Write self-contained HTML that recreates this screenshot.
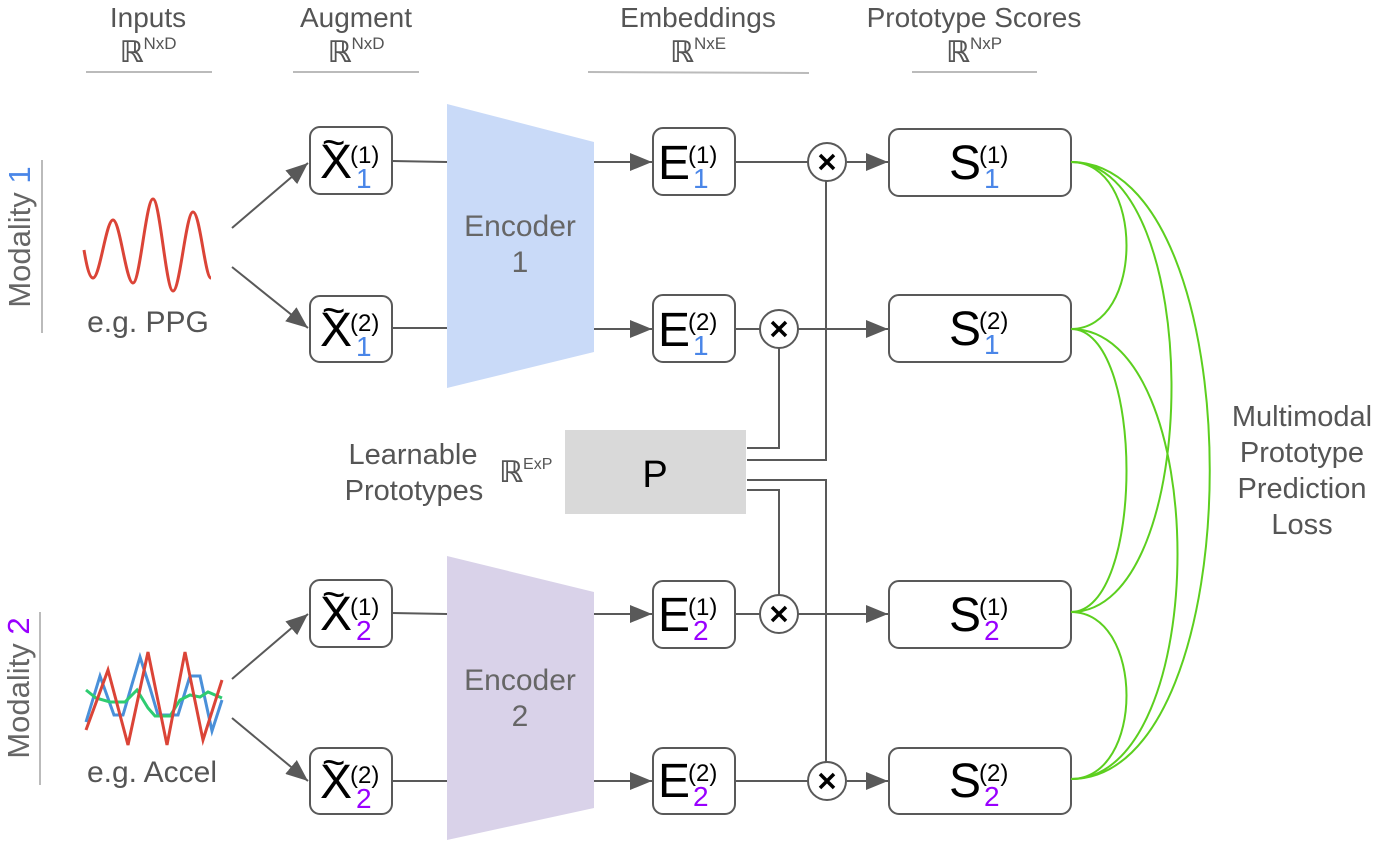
<!DOCTYPE html>
<html><head><meta charset="utf-8"><style>
html,body{margin:0;padding:0;background:#fff;}
svg{display:block;font-family:"Liberation Sans",Arial,sans-serif;}
</style></head><body>
<svg width="1377" height="846" viewBox="0 0 1377 846" xmlns="http://www.w3.org/2000/svg">
<defs>
<marker id="ah2" markerWidth="22" markerHeight="18" refX="22" refY="9" orient="auto" markerUnits="userSpaceOnUse">
<path d="M0,0 L22,9 L0,18 z" fill="#595959"/></marker>
</defs>

<!-- headers -->
<g fill="#555" font-size="28" text-anchor="middle">
<text x="148" y="27">Inputs</text>
<text x="356" y="27">Augment</text>
<text x="698" y="27">Embeddings</text>
<text x="974" y="27">Prototype Scores</text>
</g>
<g fill="#555" text-anchor="middle">
<text x="148" y="62"><tspan font-size="30" font-family="DejaVu Sans" font-weight="bold">ℝ</tspan><tspan font-size="17" dy="-13">NxD</tspan></text>
<text x="356" y="62"><tspan font-size="30" font-family="DejaVu Sans" font-weight="bold">ℝ</tspan><tspan font-size="17" dy="-13">NxD</tspan></text>
<text x="698" y="62"><tspan font-size="30" font-family="DejaVu Sans" font-weight="bold">ℝ</tspan><tspan font-size="17" dy="-13">NxE</tspan></text>
<text x="974" y="62"><tspan font-size="30" font-family="DejaVu Sans" font-weight="bold">ℝ</tspan><tspan font-size="17" dy="-13">NxP</tspan></text>
</g>
<g stroke="#bbb" stroke-width="2">
<line x1="86" y1="72" x2="212" y2="72"/>
<line x1="293" y1="72" x2="419" y2="72"/>
<line x1="588" y1="72" x2="809" y2="73"/>
<line x1="912" y1="72" x2="1037" y2="72"/>
<line x1="42" y1="160" x2="42" y2="333"/>
<line x1="40" y1="612" x2="40" y2="785"/>
</g>

<!-- modality labels -->
<text transform="translate(30,237) rotate(-90)" text-anchor="middle" font-size="31" fill="#666">Modality <tspan fill="#4a86e8">1</tspan></text>
<text transform="translate(29,688) rotate(-90)" text-anchor="middle" font-size="31" fill="#666">Modality <tspan fill="#9900ff">2</tspan></text>

<!-- waves -->
<path d="M84,250 C86,262 89,278 93,278 C100,278 106,220 113,220 C120,220 126,283 133,283 C140,283 146,199 153,199 C160,199 166,291 173,291 C180,291 186,212 193,212 C200,212 205,278 211,278" fill="none" stroke="#db4437" stroke-width="3"/>
<polyline points="86,722 100,676 114,715 123,715 140,657 150,688 158,715 178,715 190,676 200,676 212,731 222,700" fill="none" stroke="#4a90d9" stroke-width="3"/>
<polyline points="86,690 96,698 110,702 125,702 137,690 148,708 155,716 170,716 180,700 190,695 200,697 208,692 222,698" fill="none" stroke="#2ecc71" stroke-width="3"/>
<polyline points="86,730 108,670 128,745 148,652 167,745 185,652 203,740 222,680" fill="none" stroke="#db4437" stroke-width="3"/>
<g fill="#555" font-size="30" text-anchor="middle">
<text x="148" y="332">e.g. PPG</text>
<text x="152" y="782">e.g. Accel</text>
</g>

<!-- input arrows -->
<g stroke="#595959" stroke-width="2" marker-end="url(#ah2)">
<line x1="232" y1="228" x2="308" y2="163"/>
<line x1="232" y1="267" x2="308" y2="328"/>
<line x1="232" y1="679" x2="308" y2="614"/>
<line x1="232" y1="718" x2="308" y2="781"/>
</g>

<!-- encoders -->
<polygon points="447,104 594,142 594,352 447,388" fill="#c9daf8"/>
<polygon points="447,556 594,592 594,808 447,840" fill="#d9d2e9"/>
<g fill="#666" font-size="30" text-anchor="middle">
<text x="520" y="236">Encoder</text><text x="520" y="272">1</text>
<text x="520" y="690">Encoder</text><text x="520" y="726">2</text>
</g>

<g stroke="#595959" stroke-width="2" fill="none">
<line x1="392" y1="161" x2="447" y2="162"/>
<line x1="392" y1="328" x2="447" y2="328"/>
<line x1="392" y1="613" x2="447" y2="614"/>
<line x1="392" y1="781" x2="447" y2="781"/>
</g>
<g stroke="#595959" stroke-width="2" marker-end="url(#ah2)">
<line x1="594" y1="162" x2="652" y2="162"/>
<line x1="594" y1="329" x2="652" y2="329"/>
<line x1="594" y1="614" x2="652" y2="614"/>
<line x1="594" y1="781" x2="652" y2="781"/>
<line x1="847" y1="162" x2="888" y2="162"/>
<line x1="798" y1="329" x2="888" y2="329"/>
<line x1="798" y1="614" x2="888" y2="614"/>
<line x1="847" y1="781" x2="888" y2="781"/>
</g>
<g stroke="#595959" stroke-width="2" fill="none">
<line x1="735" y1="162" x2="809" y2="162"/>
<line x1="735" y1="329" x2="760" y2="329"/>
<line x1="735" y1="614" x2="760" y2="614"/>
<line x1="735" y1="781" x2="809" y2="781"/>
<polyline points="747,448 779,448 779,348"/>
<polyline points="747,460 826,460 826,181"/>
<polyline points="747,480 826,480 826,762"/>
<polyline points="747,490 779,490 779,595"/>
</g>

<g stroke="#595959" stroke-width="2" fill="#fff">
<circle cx="827" cy="162" r="19"/>
<circle cx="779" cy="329" r="19"/>
<circle cx="779" cy="614" r="19"/>
<circle cx="827" cy="781" r="19"/>
</g>
<g stroke="#000" stroke-width="3.5">
<path d="M820,155 L834,169 M834,155 L820,169"/>
<path d="M772,322 L786,336 M786,322 L772,336"/>
<path d="M772,607 L786,621 M786,607 L772,621"/>
<path d="M820,774 L834,788 M834,774 L820,788"/>
</g>

<!-- P box -->
<rect x="565" y="430" width="181" height="84" fill="#d9d9d9"/>
<text x="655" y="487" text-anchor="middle" font-size="38" fill="#000">P</text>
<g fill="#555" font-size="29" text-anchor="middle">
<text x="413" y="464">Learnable</text>
<text x="414" y="500">Prototypes</text>
</g>
<text x="499" y="482" fill="#555"><tspan font-size="30" font-family="DejaVu Sans" font-weight="bold">ℝ</tspan><tspan font-size="16" dy="-13">ExP</tspan></text>

<!-- boxes -->
<g stroke="#595959" stroke-width="2" fill="#fff">
<rect x="310" y="127" width="82" height="67" rx="10"/>
<rect x="310" y="296" width="82" height="66" rx="10"/>
<rect x="310" y="580" width="82" height="67" rx="10"/>
<rect x="310" y="748" width="82" height="66" rx="10"/>
<rect x="653" y="128" width="82" height="67" rx="10"/>
<rect x="653" y="295" width="82" height="67" rx="10"/>
<rect x="653" y="581" width="82" height="67" rx="10"/>
<rect x="653" y="748" width="82" height="66" rx="10"/>
<rect x="889" y="129" width="182" height="67" rx="10"/>
<rect x="889" y="295" width="182" height="67" rx="10"/>
<rect x="889" y="581" width="182" height="67" rx="10"/>
<rect x="889" y="748" width="182" height="66" rx="10"/>
</g>

<g font-size="48" fill="#000">
<text x="320" y="178">X</text><text x="322" y="156" font-size="40" transform="translate(0,0)">~</text>
<text x="350" y="163" font-size="24">(1)</text><text x="356" y="188" font-size="28" fill="#4a86e8">1</text>
<text x="320" y="346">X</text><text x="322" y="324" font-size="40">~</text>
<text x="350" y="331" font-size="24">(2)</text><text x="356" y="356" font-size="28" fill="#4a86e8">1</text>
<text x="320" y="630">X</text><text x="322" y="608" font-size="40">~</text>
<text x="350" y="615" font-size="24">(1)</text><text x="356" y="640" font-size="28" fill="#9900ff">2</text>
<text x="320" y="798">X</text><text x="322" y="776" font-size="40">~</text>
<text x="350" y="783" font-size="24">(2)</text><text x="356" y="808" font-size="28" fill="#9900ff">2</text>

<text x="658" y="179">E</text><text x="688" y="163" font-size="24">(1)</text><text x="693" y="188" font-size="28" fill="#4a86e8">1</text>
<text x="658" y="346">E</text><text x="688" y="330" font-size="24">(2)</text><text x="693" y="355" font-size="28" fill="#4a86e8">1</text>
<text x="658" y="631">E</text><text x="688" y="615" font-size="24">(1)</text><text x="693" y="640" font-size="28" fill="#9900ff">2</text>
<text x="658" y="797">E</text><text x="688" y="781" font-size="24">(2)</text><text x="693" y="806" font-size="28" fill="#9900ff">2</text>

<text x="949" y="179">S</text><text x="979" y="163" font-size="24">(1)</text><text x="984" y="188" font-size="28" fill="#4a86e8">1</text>
<text x="949" y="345">S</text><text x="979" y="329" font-size="24">(2)</text><text x="984" y="354" font-size="28" fill="#4a86e8">1</text>
<text x="949" y="631">S</text><text x="979" y="615" font-size="24">(1)</text><text x="984" y="640" font-size="28" fill="#9900ff">2</text>
<text x="949" y="797">S</text><text x="979" y="781" font-size="24">(2)</text><text x="984" y="806" font-size="28" fill="#9900ff">2</text>
</g>

<g stroke="#5ccf1f" stroke-width="2" fill="none">
<path d="M1071,162 C1145,162 1145,329 1071,329"/>
<path d="M1071,329 C1145,329 1145,612 1071,612"/>
<path d="M1071,612 C1145,612 1145,779 1071,779"/>
<path d="M1071,162 C1205,162 1205,612 1071,612"/>
<path d="M1071,329 C1213,329 1213,779 1071,779"/>
<path d="M1071,162 C1256,162 1256,779 1071,779"/>
</g>
<g fill="#555" font-size="29" text-anchor="middle">
<text x="1302" y="426">Multimodal</text>
<text x="1302" y="462">Prototype</text>
<text x="1302" y="498">Prediction</text>
<text x="1302" y="534">Loss</text>
</g>
</svg>
</body></html>
